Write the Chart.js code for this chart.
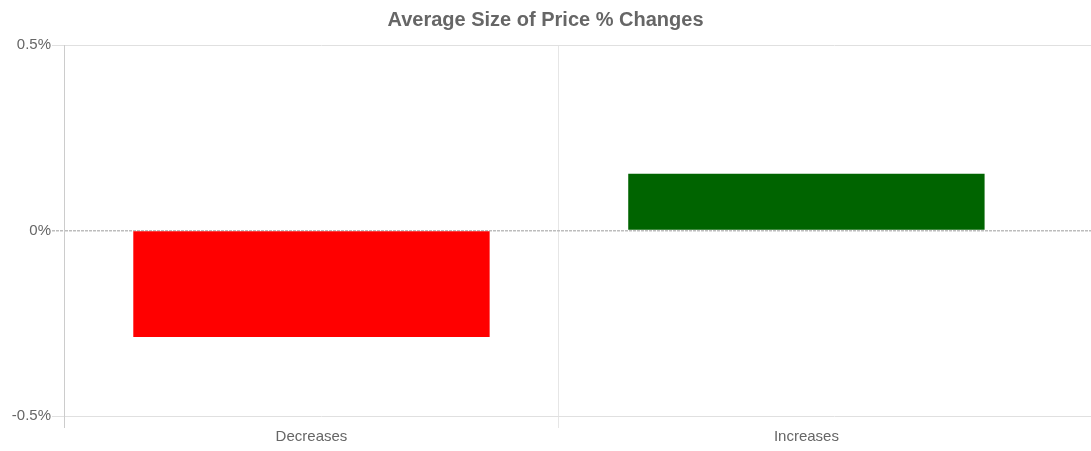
<!DOCTYPE html>
<html>
<head>
<meta charset="utf-8">
<script src="https://cdn.jsdelivr.net/npm/chart.js@4/dist/chart.umd.min.js"></script>
<style>
  html, body { margin: 0; padding: 0; background: #ffffff; }
  #wrap { width: 1091px; height: 451px; position: relative; }
</style>
</head>
<body>
<div id="wrap"><canvas id="c"></canvas></div>
<script>
const categories = ['Decreases', 'Increases'];
const avgChange = [-0.287, 0.153];
const barColors = ['#ff0000', '#006400'];
const yTicks = [-0.5, 0, 0.5];
const titleText = 'Average Size of Price % Changes';

const FONT = "'Liberation Sans', Arial, Helvetica, sans-serif";

// stretch the category range so the plot continues past the last category
const stretchPlugin = {
  id: 'stretch',
  afterLayout(chart) {
    const x = chart.scales.x;
    x._valueRange = categories.length * 1.0375;
  }
};

new Chart(document.getElementById('c'), {
  type: 'bar',
  data: {
    labels: categories,
    datasets: [{
      data: avgChange,
      backgroundColor: barColors,
      borderWidth: 0
    }]
  },
  plugins: [stretchPlugin],
  options: {
    responsive: true,
    maintainAspectRatio: false,
    animation: false,
    layout: { padding: { left: 0, right: 0, top: 0, bottom: 0 } },
    plugins: {
      legend: { display: false },
      tooltip: { enabled: false },
      title: {
        display: true,
        text: titleText,
        color: '#666666',
        font: { family: FONT, size: 20, weight: 'bold' },
        padding: { top: 8, bottom: 13 }
      }
    },
    scales: {
      x: {
        offset: true,
        grid: {
          offset: true,
          tickLength: 12,
          lineWidth: 1,
          color: (ctx) => ctx.index === 0 ? '#cccccc' : (ctx.index === 1 ? '#e6e6e6' : 'rgba(0,0,0,0)')
        },
        border: { display: false },
        ticks: {
          color: '#666666',
          font: { family: FONT, size: 15 },
          padding: 0,
          maxRotation: 0,
          autoSkip: false
        },
        afterFit(scale) { scale.height = 35; }
      },
      y: {
        min: yTicks[0],
        max: yTicks[yTicks.length - 1],
        afterBuildTicks(scale) { scale.ticks = yTicks.map(v => ({ value: v })); },
        grid: {
          tickLength: 12,
          lineWidth: (ctx) => (ctx.tick && ctx.tick.value === 0) ? 1.5 : 1,
          color: (ctx) => (ctx.tick && ctx.tick.value === 0) ? '#bdbdbd' : '#e0e0e0',
          tickBorderDash: (ctx) => (ctx.tick && ctx.tick.value === 0) ? [3, 1] : []
        },
        border: {
          display: true,
          color: '#cccccc',
          width: 1,
          dash: (ctx) => (ctx.tick && ctx.tick.value === 0) ? [3, 1] : []
        },
        ticks: {
          color: '#666666',
          font: { family: FONT, size: 15 },
          padding: 1,
          callback: (v) => v + '%'
        },
        afterFit(scale) { scale.width = 64; }
      }
    }
  }
});
</script>
</body>
</html>
